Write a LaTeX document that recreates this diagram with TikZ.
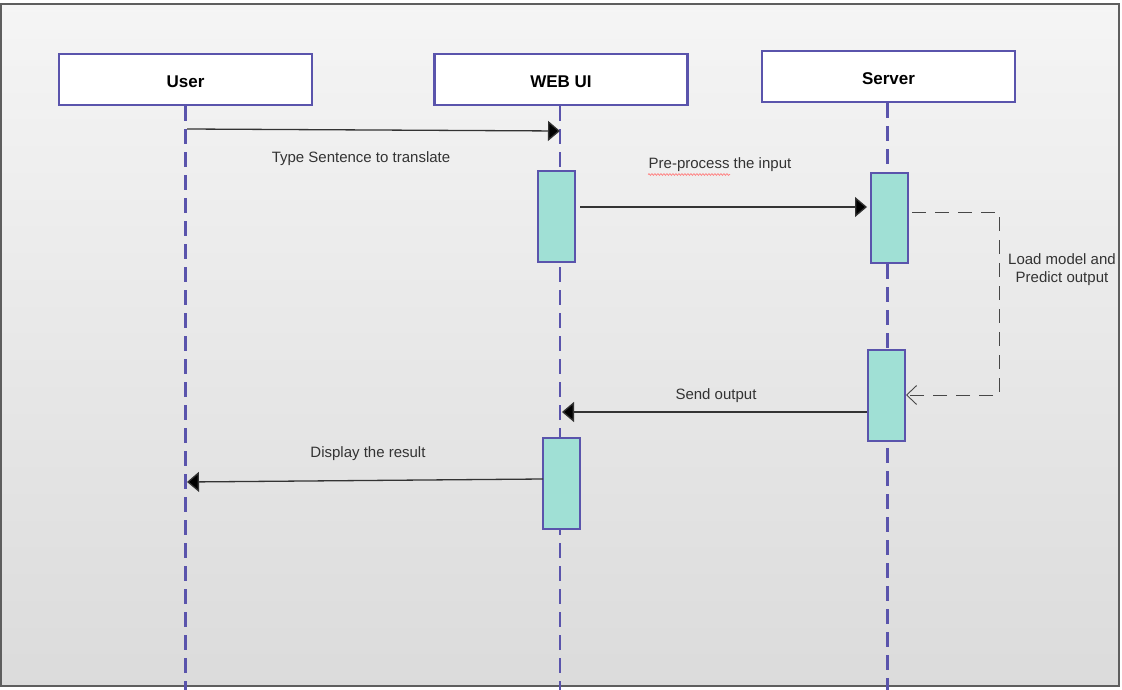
\documentclass[tikz,border=0pt]{standalone}
\usepackage{fontspec}
\setmainfont{Liberation Sans}
\usetikzlibrary{arrows.meta,decorations.pathmorphing}
\definecolor{lane}{HTML}{5A54AC}
\definecolor{actfill}{HTML}{A0E0D5}
\definecolor{msg}{HTML}{333333}
\definecolor{framec}{HTML}{5E5E5E}
\begin{document}
\begin{tikzpicture}[x=1pt,y=-1pt,
  header/.style={draw=lane, line width=2.2pt, fill=white, minimum width=253pt,
    minimum height=51pt, inner sep=0pt, text height=17pt, text depth=0pt,
    font=\fontsize{17}{20}\selectfont\bfseries},
  lifeline/.style={draw=lane, line width=2.2pt, dash pattern=on 15pt off 8pt},
  act/.style={draw=lane, line width=1.8pt, fill=actfill, minimum width=37pt,
    minimum height=91pt, inner sep=0pt},
  msgline/.style={draw=msg, line width=1.3pt, -{Triangle[length=12pt,width=20pt,fill=black]}},
  retline/.style={draw=msg!90, line width=0.9pt, dash pattern=on 14pt off 9pt,
    -{Straight Barb[length=10pt,width=19pt,line width=0.9pt]}},
  lbl/.style={text=msg, font=\fontsize{15}{18}\selectfont, inner sep=0pt, align=center}
]
\useasboundingbox (0,0) rectangle (1122,690);
% canvas and framed diagram area
\fill[white] (0,0) rectangle (1122,690);
\shade[top color=black!4, bottom color=black!14] (1,4) rectangle (1119,686);
\draw[framec, line width=2pt] (1,4) rectangle (1119,686);

% participants
\node[header] (user) at (185.5,79.5) {User};
\node[header] (web) at (561,79.5) {WEB UI};
\node[header] (srv) at (888.5,76.5) {Server};

% lifeline ends
\coordinate (userEnd) at (185.5,690);
\coordinate (webEnd) at (560,690);
\coordinate (srvEnd) at (887.5,690);
\draw[lifeline] (user.south) -- (userEnd);
\draw[lifeline] (web.south -| webEnd) -- (webEnd);
\draw[lifeline] (srv.south -| srvEnd) -- (srvEnd);

% activation bars
\node[act] (wa1) at (556.5,216.5) {};
\node[act, minimum height=90pt] (sa1) at (889.5,218) {};
\node[act] (sa2) at (886.5,395.5) {};
\node[act] (wa2) at (561.5,483.5) {};

% message end points
\coordinate (m1a) at (187,129);
\coordinate (m1b) at (560,131);
\coordinate (m2a) at (580,207);
\coordinate (m2b) at (867,207);
\coordinate (l1) at (912,212);
\coordinate (l2) at (999,212);
\coordinate (l3) at (999,395);
\coordinate (l4) at (906,395);
\coordinate (m4a) at (867,412);
\coordinate (m4b) at (562,412);
\coordinate (m5a) at (543,479);
\coordinate (m5b) at (187,482);

% messages
\draw[msgline] (m1a) -- (m1b);
\draw[msgline] (m2a) -- (m2b);
\draw[retline] (l1) -- (l2) -- (l3) -- (l4);
\draw[msgline] (m4a) -- (m4b);
\draw[msgline] (m5a) -- (m5b);

% message labels
\node[lbl] (t1) at (361,159) {Type Sentence to translate};
\node[lbl] (t2) at (720,165) {Pre-process the input};
\node[lbl] (t3) at (1062,270) {Load model and\\Predict output};
\node[lbl] (t4) at (716,396) {Send output};
\node[lbl] (t5) at (368,454) {Display the result};

% spell-check squiggle under the first word
\draw[red!50, line width=0.7pt, decorate, decoration={snake, amplitude=0.9pt, segment length=3pt}]
  (648,174.5) -- (730,174.5);
\end{tikzpicture}
\end{document}
